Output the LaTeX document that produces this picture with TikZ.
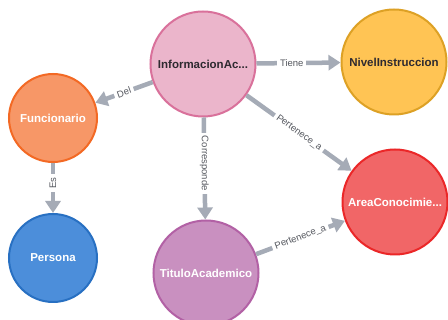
\documentclass[tikz,border=0pt]{standalone}
\usepackage{fontspec}
\setmainfont{Liberation Sans}
\usetikzlibrary{arrows.meta}

\definecolor{infofill}{HTML}{EBB5CB}
\definecolor{infoline}{HTML}{D9719B}
\definecolor{nivfill}{HTML}{FFC454}
\definecolor{nivline}{HTML}{DDA125}
\definecolor{funfill}{HTML}{F79767}
\definecolor{funline}{HTML}{F36924}
\definecolor{perfill}{HTML}{4C8EDA}
\definecolor{perline}{HTML}{2870C2}
\definecolor{titfill}{HTML}{C990C0}
\definecolor{titline}{HTML}{B261A5}
\definecolor{arefill}{HTML}{F16667}
\definecolor{areline}{HTML}{EB2728}
\definecolor{edgegray}{HTML}{A5ABB6}
\definecolor{labgray}{HTML}{55585F}
\definecolor{darktext}{HTML}{2E2A30}

\tikzset{
  entity/.style={circle, draw, line width=2pt, inner sep=0pt,
    font=\fontsize{11.5}{13}\selectfont\bfseries, text=white},
  big/.style={entity, minimum size=105pt},
  small/.style={entity, minimum size=88pt},
  rel/.style={draw=edgegray, line width=4.5pt,
    -{Triangle[length=12pt,width=15pt]}},
  rellabel/.style={fill=white, text=labgray, inner ysep=1pt, inner xsep=3pt,
    font=\fontsize{9.5}{10}\selectfont}
}

\begin{document}
\begin{tikzpicture}[x=1pt,y=-1pt]
\useasboundingbox (0,0) rectangle (448,320);
\fill[white] (0,0) rectangle (448,320);
\clip (0,0) rectangle (448,320);

% entities
\node[big, fill=infofill, draw=infoline, text=darktext] (info) at (203,64) {InformacionAc...};
\node[big, fill=nivfill, draw=nivline, text=darktext] (nivel) at (394,62) {NivelInstruccion};
\node[small, fill=funfill, draw=funline] (func) at (53,118) {Funcionario};
\node[small, fill=perfill, draw=perline] (pers) at (53,258) {Persona};
\node[big, fill=titfill, draw=titline] (titulo) at (206,273) {TituloAcademico};
\node[big, fill=arefill, draw=areline] (area) at (395,202) {AreaConocimie...};

% relationships
\draw[rel] (info) -- node[rellabel, pos=0.42] {Tiene} (nivel);
\draw[rel] (info) -- node[rellabel, sloped] {Del} (func);
\draw[rel] (func) -- node[rellabel, rotate=90, pos=0.4] {Es} (pers);
\draw[rel] (info) -- node[rellabel, rotate=-90, pos=0.45] {Corresponde} (titulo);
\draw[rel] (info) -- node[rellabel, sloped] {Pertenece\_a} (area);
\draw[rel] (titulo) -- node[rellabel, sloped] {Pertenece\_a} (area);
\end{tikzpicture}
\end{document}
